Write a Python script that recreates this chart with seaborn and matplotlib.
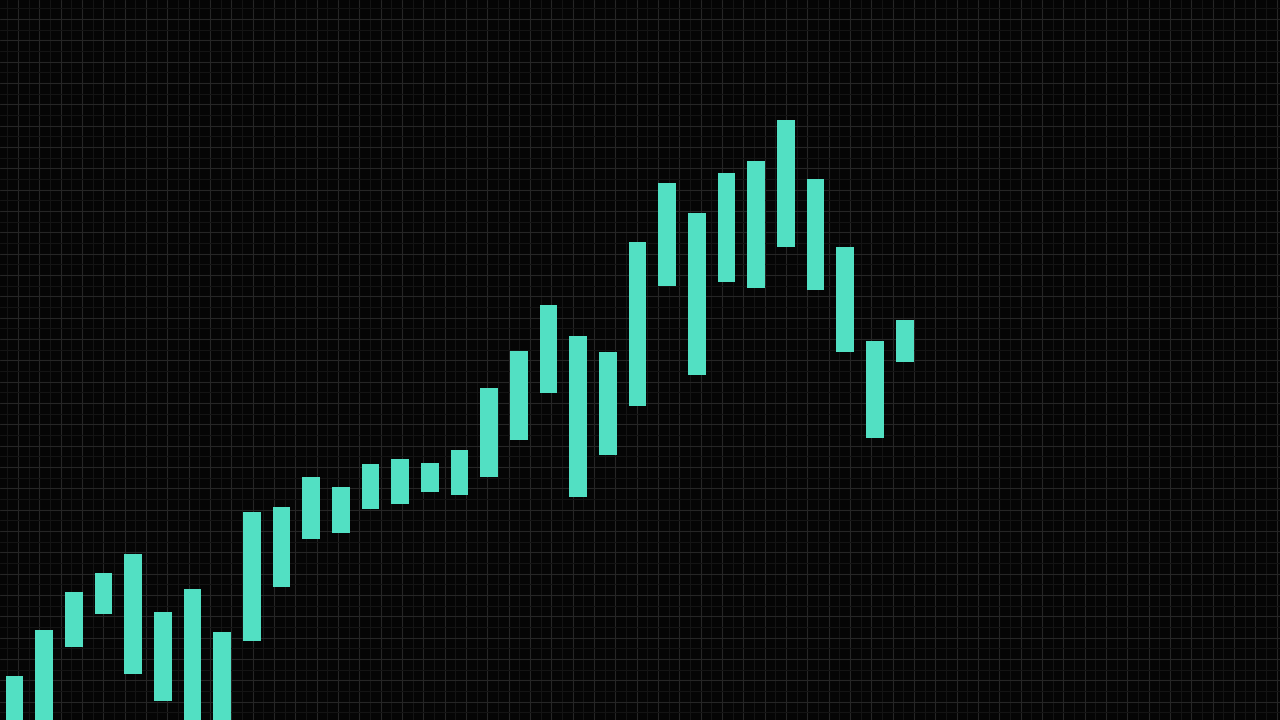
import numpy as np
import pandas as pd
import matplotlib
matplotlib.use('Agg')
import matplotlib.pyplot as plt
import seaborn as sns

# body of each candle (low / high edge), in chart units
body_low = [-20, -20, 73, 106, 46, 19, -20, -20, 79, 133, 181, 187, 211, 216, 228, 225,
            243, 280, 327, 223, 265, 314, 434, 345, 438, 432, 473, 430, 368, 282, 358]
body_high = [44, 90, 128, 147, 166, 108, 131, 88, 208, 213, 243, 233, 256, 261, 257, 270,
             332, 369, 415, 384, 368, 478, 537, 507, 547, 559, 600, 541, 473, 379, 400]
periods = list(range(1, len(body_low) + 1))

df = pd.DataFrame({'period': periods, 'low': body_low, 'high': body_high})
df['height'] = df['high'] - df['low']

bg = '#050505'
bar_color = '#52e0c3'

sns.set_theme(style='dark')
fig = plt.figure(figsize=(12.8, 7.2), dpi=100)
fig.patch.set_facecolor(bg)

## background grid in pixel units
gax = fig.add_axes([0, 0, 1, 1])
gax.set_facecolor(bg)
gax.set_xlim(0, 1280)
gax.set_ylim(0, 720)
step = 1280 / 60
gax.set_xticks(np.arange(18, 1280, step))
gax.set_xticks(np.arange(18 - step / 2, 1280, step), minor=True)
gax.set_yticks(np.arange(701, 0, -step))
gax.set_yticks(np.arange(701 + step / 2, 0, -step), minor=True)
gax.grid(which='major', color='#262626', lw=0.8)
gax.grid(which='minor', color='#141414', lw=0.8)
gax.tick_params(which='both', length=0, labelbottom=False, labelleft=False)
for s in gax.spines.values():
    s.set_visible(False)

## bars on top
ax = fig.add_axes([0, 0, 1, 1])
ax.patch.set_alpha(0)
sns.barplot(data=df, x='period', y='height', bottom=df['low'], color=bar_color,
            width=0.6, saturation=1, ax=ax, linewidth=0)
ax.set_xlim(-0.489, -0.489 + 1280 / 29.67)
ax.set_ylim(0, 720)
ax.set_xlabel('')
ax.set_ylabel('')
ax.set_xticks([])
ax.set_yticks([])
ax.grid(False)
for s in ax.spines.values():
    s.set_visible(False)

fig.savefig('out.png', dpi=100, facecolor=bg)
